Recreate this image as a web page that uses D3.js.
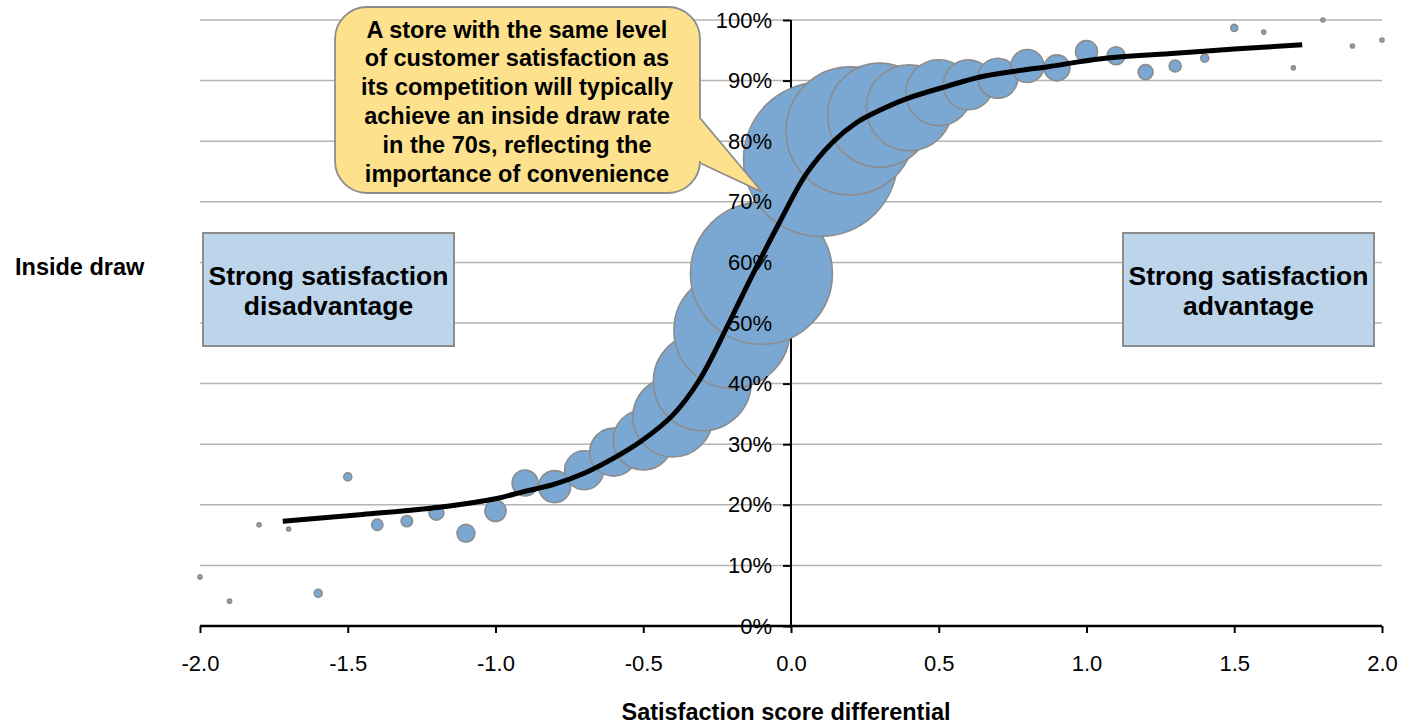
<!DOCTYPE html>
<html>
<head>
<meta charset="utf-8">
<script src="https://cdn.jsdelivr.net/npm/d3@7"></script>
<style>
  html, body { margin: 0; padding: 0; background: #ffffff; }
  svg { display: block; font-family: Arial, "Liberation Sans", sans-serif; }
</style>
</head>
<body>
<svg id="chart" width="1401" height="724"></svg>
<script>
// Satisfaction score differential buckets (store vs. competition)
const differential = [
  -2.0, -1.9, -1.8, -1.7, -1.6, -1.5, -1.4, -1.3, -1.2, -1.1,
  -1.0, -0.9, -0.8, -0.7, -0.6, -0.5, -0.4, -0.3, -0.2, -0.1,
   0.1,  0.2,  0.3,  0.4,  0.5,  0.6,  0.7,  0.8,  0.9,  1.0,
   1.1,  1.2,  1.3,  1.4,  1.5,  1.6,  1.7,  1.8,  1.9,  2.0
];
// Average inside draw rate per bucket (%)
const insideDraw = [
   8.1,  4.1, 16.7, 16.0,  5.4, 24.6, 16.7, 17.3, 18.7, 15.3,
  19.0, 23.6, 23.0, 25.7, 28.7, 30.7, 34.5, 40.3, 48.8, 58.2,
  77.0, 81.7, 84.3, 85.5, 88.0, 89.3, 90.4, 92.4, 92.1, 94.8,
  94.1, 91.4, 92.4, 93.7, 98.7, 98.0, 92.1, 100.0, 95.7, 96.7
];
// Number of stores in each bucket (bubble area)
const storeCount = [
     1,    1,    1,    1,    4,    4,    8,    8,   14,   20,
    28,   42,   64,   95,  144,  225,  400,  600,  841, 1260,
  1482, 1024,  676,  462,  272,  156,  100,   68,   42,   30,
    20,   14,    9,    4,    3,    1,    1,    1,    1,    1
];
// Fitted trend curve
const trendX = [-1.72, -1.45, -1.19, -1.0, -0.91, -0.8, -0.7, -0.6, -0.51, -0.4,
  -0.31, -0.21, -0.14, -0.04, 0.05, 0.14, 0.22, 0.30, 0.39, 0.53,
  0.64, 0.75, 0.87, 1.05, 1.3, 1.5, 1.73];
const trendY = [17.3, 18.4, 19.6, 21.0, 22.1, 23.4, 25.2, 27.7, 30.4, 34.8,
  40.6, 50.0, 57.0, 66.5, 74.5, 79.8, 83.0, 85.1, 87.0, 89.1,
  90.6, 91.5, 92.3, 93.6, 94.5, 95.2, 95.9];

const xTicks = [-2.0, -1.5, -1.0, -0.5, 0.0, 0.5, 1.0, 1.5, 2.0];
const yTicks = [0, 10, 20, 30, 40, 50, 60, 70, 80, 90, 100];

const calloutLines = [
  "A store with the same level",
  "of customer satisfaction as",
  "its competition will typically",
  "achieve an inside draw rate",
  "in the 70s, reflecting the",
  "importance of convenience"
];
const leftBoxLines = ["Strong satisfaction", "disadvantage"];
const rightBoxLines = ["Strong satisfaction", "advantage"];

const svg = d3.select("#chart");

const x = d3.scaleLinear().domain([-2, 2]).range([200, 1382]);
const y = d3.scaleLinear().domain([0, 100]).range([626, 20]);
const r = d3.scaleSqrt().domain([0, 1500]).range([0, 2 * Math.sqrt(1500)]);

const points = differential.map((d, i) => ({ x: d, y: insideDraw[i], n: storeCount[i] }));
const trend = trendX.map((d, i) => ({ x: d, y: trendY[i] }));

// Horizontal gridlines
svg.append("g")
  .selectAll("line")
  .data(yTicks.filter(t => t > 0))
  .join("line")
  .attr("x1", x(-2)).attr("x2", x(2))
  .attr("y1", d => y(d)).attr("y2", d => y(d))
  .attr("stroke", "#b4b4b4")
  .attr("stroke-width", 1.5);

// Axis lines and tick marks (labels are drawn later, above the bubbles)
const yAxisLines = svg.append("g")
  .attr("transform", `translate(${x(0)},0)`)
  .call(d3.axisLeft(y).tickValues(yTicks).tickSize(8).tickFormat(""));
yAxisLines.selectAll("text").remove();
yAxisLines.select(".domain").attr("stroke", "#000").attr("stroke-width", 2)
  .attr("d", `M0,${y(100)}V${y(0)}`);
yAxisLines.selectAll(".tick line").attr("stroke", "#000").attr("stroke-width", 2);

const xAxis = svg.append("g")
  .attr("transform", `translate(0,${y(0)})`)
  .call(d3.axisBottom(x).tickValues(xTicks).tickSize(7).tickPadding(22)
    .tickFormat(d => d.toFixed(1)));
xAxis.select(".domain").attr("stroke", "#000").attr("stroke-width", 2.5)
  .attr("d", `M${x(-2)},0H${x(2)}`);
xAxis.selectAll(".tick line").attr("stroke", "#000").attr("stroke-width", 2);
xAxis.selectAll("text").attr("font-size", 22).attr("fill", "#000")
  .attr("font-family", "Arial, 'Liberation Sans', sans-serif");

// Bubbles
svg.append("g")
  .selectAll("circle")
  .data(points)
  .join("circle")
  .attr("cx", d => x(d.x))
  .attr("cy", d => y(d.y))
  .attr("r", d => r(d.n))
  .attr("fill", "#7aa8d2")
  .attr("stroke", "#8c8c8c")
  .attr("stroke-width", 1.6);

// Y tick labels on top of the bubbles
const yLabels = svg.append("g")
  .attr("transform", `translate(${x(0)},0)`)
  .call(d3.axisLeft(y).tickValues(yTicks).tickSize(8).tickPadding(11)
    .tickFormat(d => d + "%"));
yLabels.select(".domain").remove();
yLabels.selectAll(".tick line").remove();
yLabels.selectAll("text").attr("font-size", 22).attr("fill", "#000")
  .attr("font-family", "Arial, 'Liberation Sans', sans-serif");

// Trend curve
svg.append("path")
  .datum(trend)
  .attr("fill", "none")
  .attr("stroke", "#000")
  .attr("stroke-width", 5)
  .attr("stroke-linecap", "butt")
  .attr("d", d3.line().x(d => x(d.x)).y(d => y(d.y)).curve(d3.curveCatmullRom.alpha(0.5)));

// Axis titles
svg.append("text")
  .attr("x", 15).attr("y", 275)
  .attr("font-size", 23.5).attr("font-weight", "bold")
  .text("Inside draw");

svg.append("text")
  .attr("x", 786).attr("y", 720)
  .attr("text-anchor", "middle")
  .attr("font-size", 23.5).attr("font-weight", "bold")
  .text("Satisfaction score differential");

// Speech-bubble annotation
const cL = 335, cR = 700, cT = 7, cB = 193, cr = 32;
const tip = [762, 192];
const calloutPath = [
  `M${cL + cr},${cT}`, `H${cR - cr}`, `A${cr},${cr} 0 0 1 ${cR},${cT + cr}`,
  `V118`, `L${tip[0]},${tip[1]}`, `L${cR},163`,
  `V${cB - cr}`, `A${cr},${cr} 0 0 1 ${cR - cr},${cB}`,
  `H${cL + cr}`, `A${cr},${cr} 0 0 1 ${cL},${cB - cr}`,
  `V${cT + cr}`, `A${cr},${cr} 0 0 1 ${cL + cr},${cT}`, "Z"
].join("");
svg.append("path")
  .attr("d", calloutPath)
  .attr("fill", "#fde18d")
  .attr("stroke", "#8c8c8c")
  .attr("stroke-width", 1.8);

svg.append("g")
  .selectAll("text")
  .data(calloutLines)
  .join("text")
  .attr("x", 517)
  .attr("y", (d, i) => 37.5 + i * 28.8)
  .attr("text-anchor", "middle")
  .attr("font-size", 23.5)
  .attr("font-weight", "bold")
  .text(d => d);

// Region boxes
function regionBox(x0, lines) {
  const g = svg.append("g");
  g.append("rect")
    .attr("x", x0).attr("y", 233)
    .attr("width", 251).attr("height", 113)
    .attr("fill", "#bdd5ea")
    .attr("stroke", "#8c8c8c")
    .attr("stroke-width", 2);
  g.selectAll("text")
    .data(lines)
    .join("text")
    .attr("x", x0 + 125.5)
    .attr("y", (d, i) => 285 + i * 30)
    .attr("text-anchor", "middle")
    .attr("font-size", 26.5)
    .attr("font-weight", "bold")
    .text(d => d);
}
regionBox(203, leftBoxLines);
regionBox(1123, rightBoxLines);
</script>
</body>
</html>
